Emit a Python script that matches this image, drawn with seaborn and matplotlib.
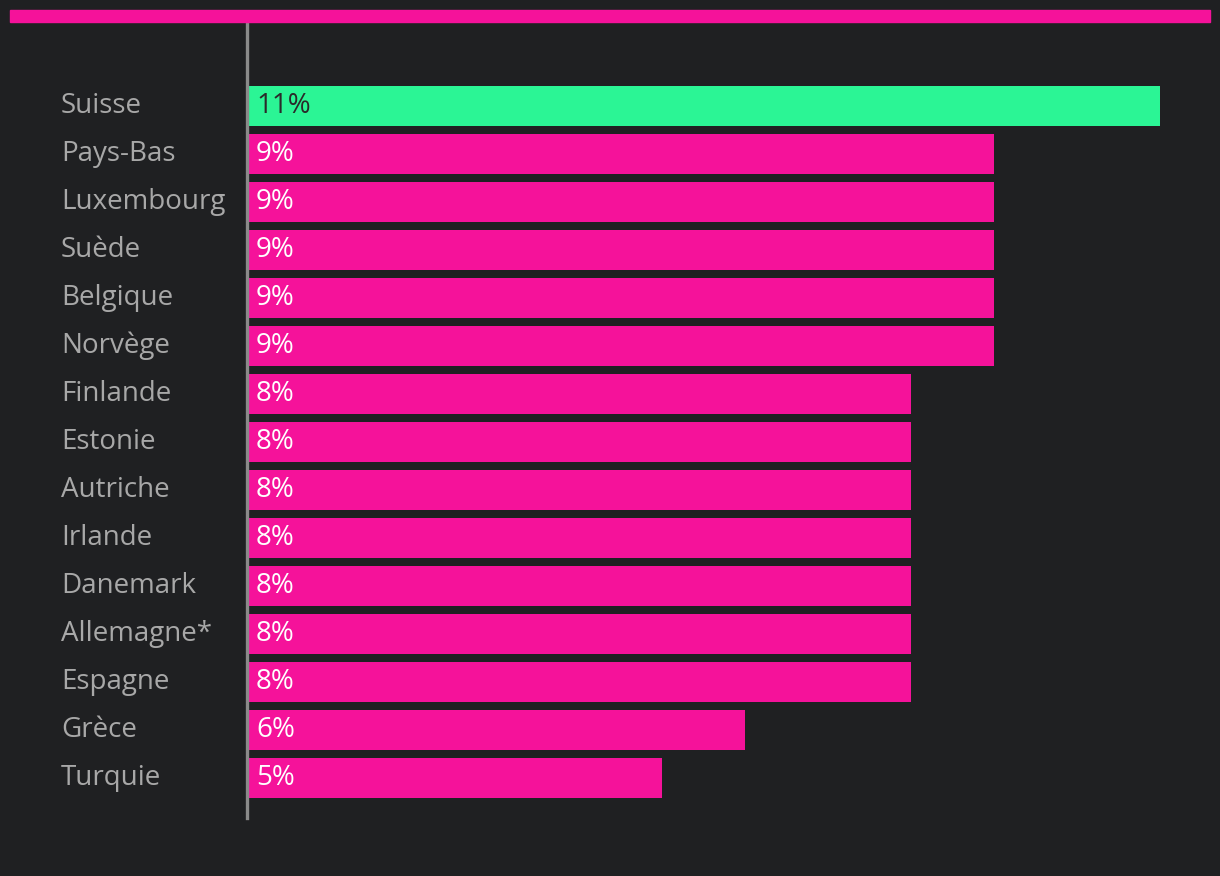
import pandas as pd
import seaborn as sns
import matplotlib.pyplot as plt
from matplotlib.patches import Rectangle

countries = ['Suisse', 'Pays-Bas', 'Luxembourg', 'Suède', 'Belgique', 'Norvège',
             'Finlande', 'Estonie', 'Autriche', 'Irlande', 'Danemark',
             'Allemagne*', 'Espagne', 'Grèce', 'Turquie']
values = [11, 9, 9, 9, 9, 9, 8, 8, 8, 8, 8, 8, 8, 6, 5]
labels = ['11%', '9%', '9%', '9%', '9%', '9%', '8%', '8%', '8%', '8%', '8%',
          '8%', '8%', '6%', '5%']

BG = '#1f2022'
PINK = '#f5129a'
GREEN = '#2bf595'

df = pd.DataFrame({'country': countries, 'value': values})
colors = [GREEN] + [PINK] * (len(countries) - 1)

sns.set_style('dark')
plt.rcParams['font.family'] = ['Open Sans', 'DejaVu Sans']

W, H = 1220, 876
PX = 83.0  # pixels per percent
fig = plt.figure(figsize=(W / 100, H / 100), dpi=100, facecolor=BG)
ax = fig.add_axes([247 / W, 1 - 818 / H, (1210 - 247) / W, (818 - 22) / H])
ax.set_facecolor(BG)

sns.barplot(data=df, x='value', y='country', hue='country', palette=colors,
            legend=False, width=40 / 48, saturation=1, linewidth=0, ax=ax)

ax.set_xlim(0, (1210 - 247) / PX)
ax.set_ylim(len(countries) - 1 + 40 / 48, -84 / 48)

for sp in ['top', 'right', 'bottom']:
    ax.spines[sp].set_visible(False)
ax.spines['left'].set_color('#8a8a8a')
ax.spines['left'].set_linewidth(2.4)
ax.set_xticks([])
ax.set_yticks([])
ax.set_xlabel('')
ax.set_ylabel('')
ax.grid(False)

for i, (c, lab) in enumerate(zip(countries, labels)):
    ax.text(-186 / PX, i, c, ha='left', va='center', fontsize=20,
            color='#a8a8a8', clip_on=False)
    ax.text(9 / PX, i, lab, ha='left', va='center', fontsize=20,
            color='#2a2a2a' if i == 0 else 'white')

# top accent strip
fig.patches.append(Rectangle((10 / W, 1 - 22 / H), 1200 / W, 12 / H,
                             transform=fig.transFigure, color=PINK, zorder=3))

fig.savefig('out.png', dpi=100, facecolor=BG)
